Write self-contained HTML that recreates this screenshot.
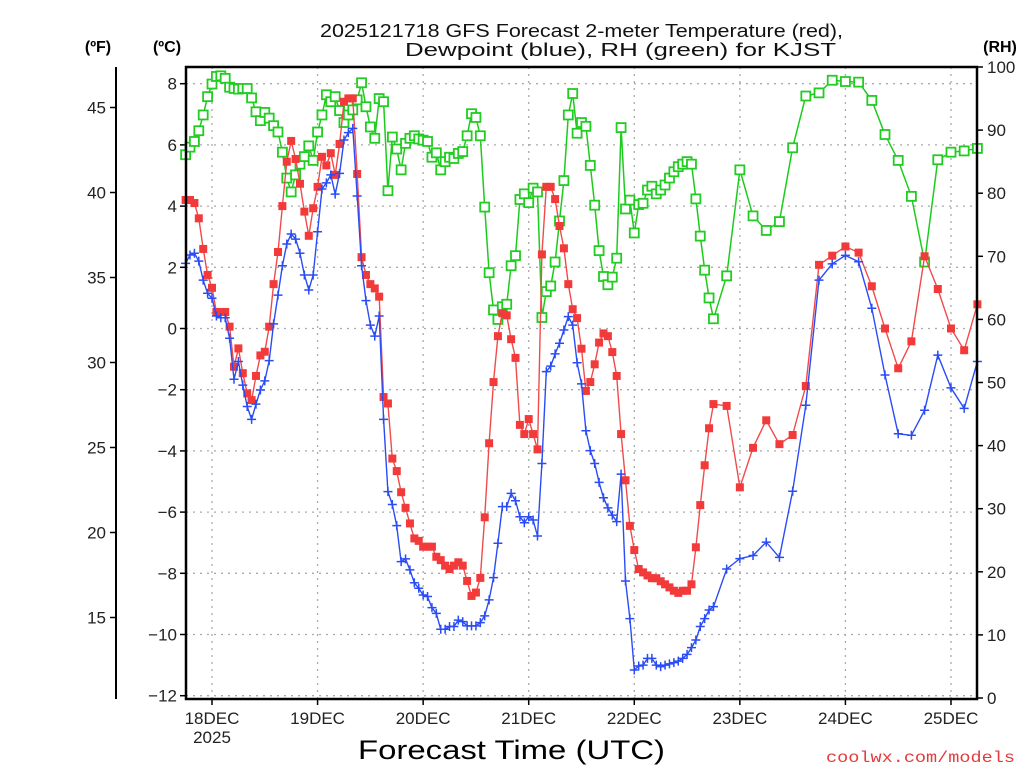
<!DOCTYPE html>
<html><head><meta charset="utf-8"><title>GFS Forecast KJST</title>
<style>
html,body{margin:0;padding:0;background:#fff;}
svg{display:block;font-family:"Liberation Sans",sans-serif;}
</style></head>
<body>
<svg id="chart" width="1024" height="768" viewBox="0 0 1024 768" xmlns="http://www.w3.org/2000/svg">
<rect x="0" y="0" width="1024" height="768" fill="#fff"/>
<g font-size="18" fill="#111">
<text x="320" y="37" textLength="523" lengthAdjust="spacingAndGlyphs">2025121718 GFS Forecast 2-meter Temperature (red),</text>
<text x="405" y="56" textLength="431" lengthAdjust="spacingAndGlyphs">Dewpoint (blue), RH (green) for KJST</text>
</g>
<text x="98" y="52" font-size="16" font-weight="bold" text-anchor="middle">(ºF)</text>
<text x="167" y="52" font-size="16" font-weight="bold" text-anchor="middle">(ºC)</text>
<text x="1000" y="52" font-size="16" font-weight="bold" text-anchor="middle">(RH)</text>
<g id="grid"></g>
<g id="axes"></g>
<g id="series"></g>
<rect x="186" y="67" width="791" height="632" fill="none" stroke="#000" stroke-width="2.5"/>
<text x="358" y="759" font-size="27" fill="#000" textLength="307" lengthAdjust="spacingAndGlyphs">Forecast Time (UTC)</text>
<text x="826" y="762" font-size="16" fill="#e23c3c" font-family="Liberation Mono, monospace" textLength="189" lengthAdjust="spacingAndGlyphs">coolwx.com/models</text>
</svg>
<script>
const dayLabels = ["18DEC","19DEC","20DEC","21DEC","22DEC","23DEC","24DEC","25DEC"];
const celsiusTicks = [-12,-10,-8,-6,-4,-2,0,2,4,6,8];
const fahrenheitTicks = [15,20,25,30,35,40,45];
const rhTicks = [0,10,20,30,40,50,60,70,80,90,100];
const hourlyStart = -6, hourlyEnd = 114, threeHourlyStart = 117, threeHourlyEnd = 174;
const temperatureC = [4.2,4.2,4.1,3.6,2.6,1.75,
1.33,0.54,0.54,0.54,0.06,-1.25,-0.65,-1.46,-2.12,-2.34,
-1.55,-0.88,-0.76,0.06,1.45,2.5,4.0,5.45,6.13,5.54,
4.73,3.82,3.03,3.93,4.63,5.61,5.33,5.73,5.02,6.03,
7.41,7.52,7.52,5.05,2.33,1.75,1.45,1.31,1.04,-2.24,
-2.45,-4.25,-4.66,-5.35,-5.86,-6.37,-6.86,-6.94,-7.13,-7.13,
-7.13,-7.46,-7.57,-7.75,-7.86,-7.75,-7.64,-7.75,-8.25,-8.74,
-8.63,-8.15,-6.17,-3.75,-1.75,-0.25,0.5,0.43,-0.35,-0.96,
-3.15,-3.45,-2.96,-3.45,-3.95,2.42,4.63,4.63,4.23,3.35,
2.62,1.45,0.63,0.34,-0.66,-2.04,-1.75,-1.17,-0.46,-0.16,
-0.25,-0.77,-1.55,-3.45,-4.96,-6.45,-7.24,-7.86,-7.97,-8.07,
-8.16,-8.16,-8.26,-8.36,-8.46,-8.57,-8.64,-8.57,-8.57,-8.36,
-7.15,-5.77,-4.47,-3.26,-2.47,
-2.53,-5.19,-3.9,-3.0,-3.78,-3.48,-1.88,2.08,2.38,2.68,2.48,1.38,0.0,-1.3,-0.42,2.36,1.29,0.0,-0.71,0.79];
const dewpointC = [2.13,2.4,2.46,2.2,1.58,1.15,
0.99,0.41,0.35,0.35,-0.32,-1.66,-1.08,-1.85,-2.55,-2.97,
-2.47,-2.01,-1.71,-1.05,0.15,1.09,2.05,2.76,3.09,2.92,
2.46,1.75,1.26,1.75,3.16,4.56,4.76,5.02,4.39,5.07,
6.16,6.4,6.54,4.33,2.05,0.91,0.11,-0.25,0.41,-2.97,
-5.33,-5.75,-6.44,-7.62,-7.53,-7.89,-8.31,-8.49,-8.71,-8.76,
-9.12,-9.31,-9.83,-9.83,-9.74,-9.74,-9.53,-9.58,-9.72,-9.72,
-9.72,-9.61,-9.39,-8.87,-8.14,-7.02,-5.82,-5.82,-5.39,-5.63,
-6.15,-6.35,-6.15,-6.26,-6.78,-4.41,-1.41,-1.23,-0.83,-0.48,
-0.05,0.39,0.11,-1.12,-1.81,-3.34,-3.99,-4.41,-5.03,-5.53,
-5.86,-6.1,-6.31,-4.76,-8.25,-9.48,-11.16,-11.03,-11.0,-10.78,
-10.78,-11.0,-11.05,-11.0,-10.96,-10.92,-10.87,-10.78,-10.65,-10.43,
-10.18,-9.74,-9.48,-9.2,-9.09,
-7.86,-7.52,-7.42,-6.98,-7.48,-5.32,-2.51,1.58,2.11,2.39,2.18,0.66,-1.52,-3.44,-3.49,-2.67,-0.87,-1.94,-2.61,-1.08];
const relHumidity = [86.1,87.3,88.2,89.9,92.4,95.3,
97.3,98.5,98.6,98.2,96.8,96.6,96.5,96.6,96.6,95.1,
92.9,91.5,92.8,91.9,90.7,89.7,86.5,82.4,80.2,82.9,
84.6,85.8,87.5,85.2,89.7,92.4,95.6,94.5,95.3,93.1,
91.2,92.4,93.2,94.8,97.5,93.7,90.5,88.7,95.0,94.5,
80.4,88.9,87.0,83.7,87.9,88.7,89.1,88.6,88.4,88.2,
85.7,86.4,83.7,85.0,85.7,85.5,86.3,86.6,89.1,92.6,
92.0,89.1,77.8,67.4,61.5,60.0,62.0,62.4,68.5,70.1,
79.0,79.9,78.5,80.8,80.2,60.3,64.4,65.3,69.1,75.6,
82.0,92.4,95.8,89.5,91.2,90.6,84.4,78.1,70.9,66.8,
65.5,66.7,69.7,90.4,77.5,78.9,73.7,78.2,78.4,80.5,
81.1,79.9,80.5,81.3,82.4,83.4,84.2,84.6,85.0,84.6,
79.1,73.2,67.8,63.4,60.1,
66.9,83.7,76.4,74.1,75.5,87.2,95.4,95.9,97.9,97.7,97.6,94.7,89.3,85.2,79.5,69.1,85.3,86.5,86.7,87.1];

const hours = [];
for (let h = hourlyStart; h <= hourlyEnd; h++) hours.push(h);
for (let h = threeHourlyStart; h <= threeHourlyEnd; h += 3) hours.push(h);

const NS = "http://www.w3.org/2000/svg";
const L = 186, R = 977, T = 67, B = 699;
function xScale(h){ return 212 + h * 105.57 / 24; }
function yC(c){ return 328.5 - c * 30.6; }
function yF(f){ return yC((f - 32) * 5 / 9); }
function yRH(r){ return 698 - r * 6.31; }
function mk(tag, attrs, parent){ const e = document.createElementNS(NS, tag); for (const k in attrs) e.setAttribute(k, attrs[k]); parent.appendChild(e); return e; }

const grid = document.getElementById('grid');
const axes = document.getElementById('axes');
const series = document.getElementById('series');

celsiusTicks.forEach(c => {
  const y = yC(c);
  const g = mk('line', {x1:L, x2:R, y1:y, y2:y, stroke:'#aaa', 'stroke-width':1.3, 'stroke-dasharray':'2 5'}, grid);
  
  
  const t = mk('line', {x1:L-6, x2:L, y1:y, y2:y, stroke:'#000', 'stroke-width':1.5}, axes);
  
  
  const lb = mk('text', {x:L-9, y:y+6, 'font-size':17, 'text-anchor':'end', fill:'#222'}, axes);
  lb.textContent = (c < 0 ? '\u2212' + Math.abs(c) : String(c));
  
  
});
dayLabels.forEach((d, i) => {
  const x = xScale(i * 24);
  const g = mk('line', {x1:x, x2:x, y1:T, y2:B, stroke:'#aaa', 'stroke-width':1.3, 'stroke-dasharray':'2 5'}, grid);
  
  
  const t = mk('line', {x1:x, x2:x, y1:B, y2:B+6, stroke:'#000', 'stroke-width':1.5}, axes);
  
  
  const lb = mk('text', {x:x, y:724, 'font-size':17, 'text-anchor':'middle', fill:'#222'}, axes);
  lb.textContent = d;
  
  
});
const yr = mk('text', {x:xScale(0), y:743, 'font-size':17, 'text-anchor':'middle', fill:'#222'}, axes);
yr.textContent = '2025';



const fLine = mk('line', {x1:116, x2:116, y1:T, y2:B, stroke:'#000', 'stroke-width':2}, axes);


fahrenheitTicks.forEach(f => {
  const y = yF(f);
  const t = mk('line', {x1:110, x2:116, y1:y, y2:y, stroke:'#000', 'stroke-width':1.5}, axes);
  
  
  const lb = mk('text', {x:106, y:y+6, 'font-size':17, 'text-anchor':'end', fill:'#222'}, axes);
  lb.textContent = String(f);
  
  
});
rhTicks.forEach(r => {
  const y = yRH(r);
  const t = mk('line', {x1:R, x2:R+6, y1:y, y2:y, stroke:'#000', 'stroke-width':1.5}, axes);
  
  
  const lb = mk('text', {x:R+10, y:y+6, 'font-size':17, 'text-anchor':'start', fill:'#222'}, axes);
  lb.textContent = String(r);
  
  
});

function pts(vals, yf){ return vals.map((v, i) => xScale(hours[i]).toFixed(1) + ',' + yf(v).toFixed(1)).join(' '); }

const rhLine = mk('polyline', {points:pts(relHumidity, yRH), fill:'none', stroke:'#1ccc1c', 'stroke-width':1.5}, series);


relHumidity.forEach((v, i) => {
  const x = xScale(hours[i]), y = yRH(v);
  const m = mk('rect', {x:x-4.5, y:y-4.5, width:9, height:9, fill:'#fff', stroke:'#22cc22', 'stroke-width':1.8}, series);
  
  
});
const tLine = mk('polyline', {points:pts(temperatureC, yC), fill:'none', stroke:'#f24a4a', 'stroke-width':1.4}, series);


temperatureC.forEach((v, i) => {
  const x = xScale(hours[i]), y = yC(v);
  const m = mk('rect', {x:x-4, y:y-4, width:8, height:8, fill:'#f33a3a'}, series);
  
  
});
const dLine = mk('polyline', {points:pts(dewpointC, yC), fill:'none', stroke:'#2a4cf5', 'stroke-width':1.4}, series);


dewpointC.forEach((v, i) => {
  const x = xScale(hours[i]), y = yC(v);
  const m = mk('path', {d:'M'+(x-4.5)+' '+y+'H'+(x+4.5)+'M'+x+' '+(y-4.5)+'V'+(y+4.5), stroke:'#2a4cf5', 'stroke-width':1.5, fill:'none'}, series);
  
  
});
</script>
</body></html>
